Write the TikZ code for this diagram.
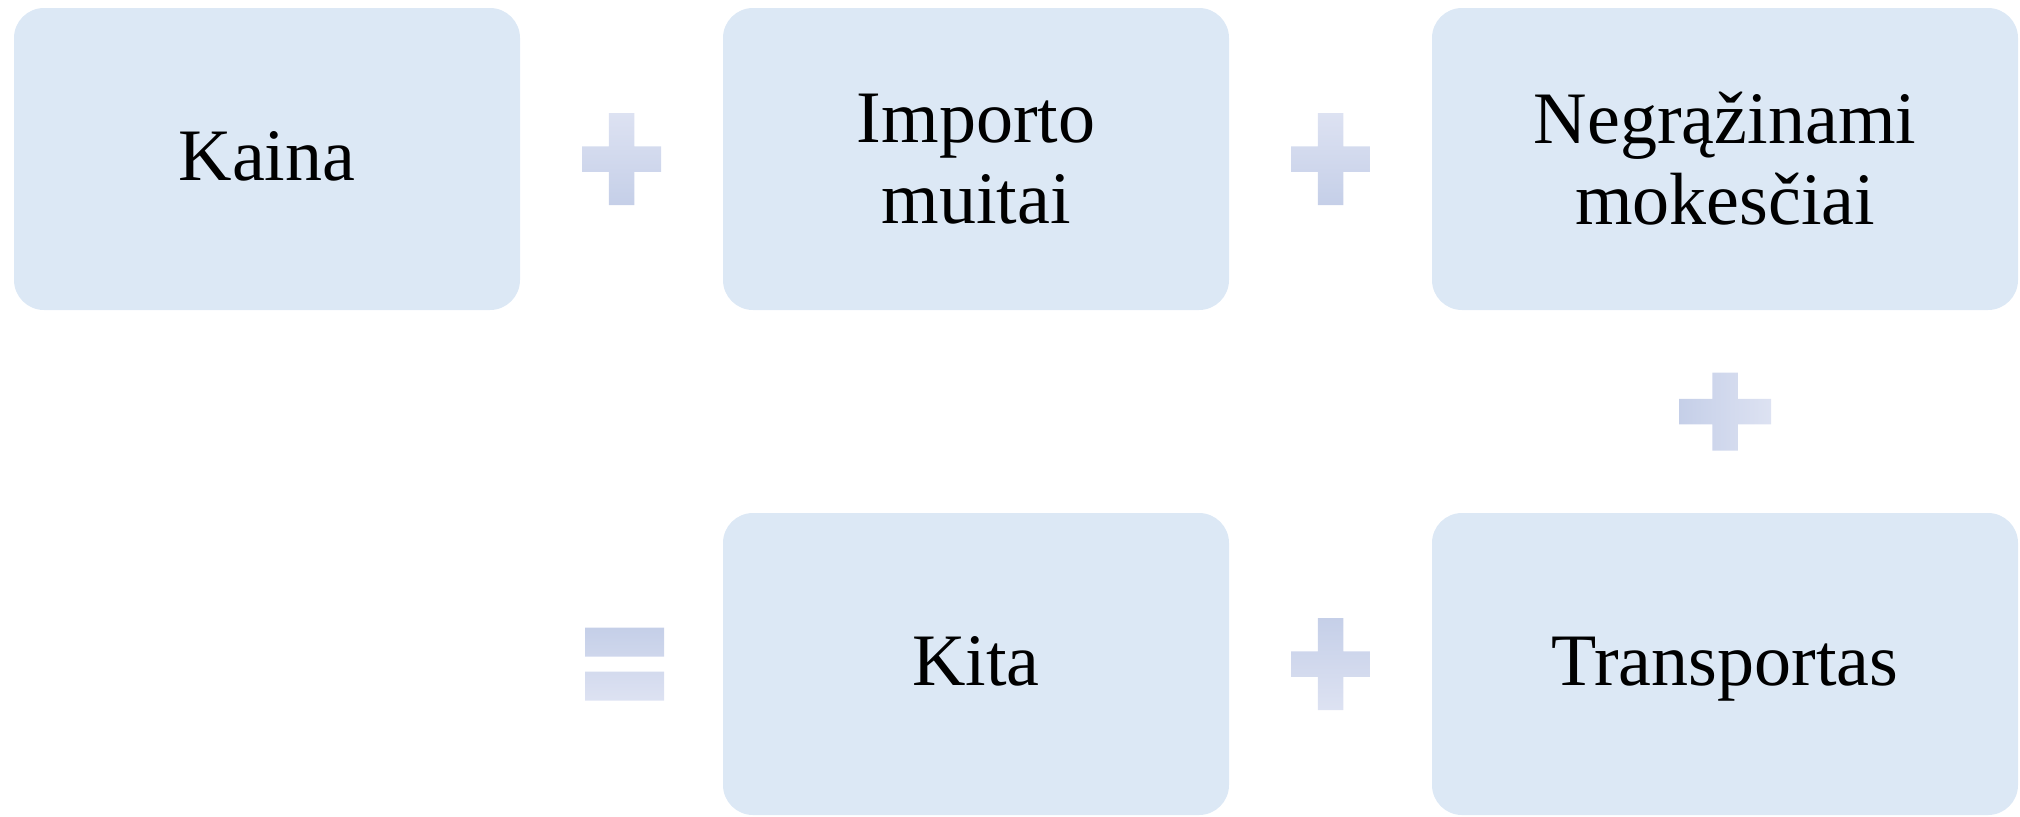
\documentclass[tikz,border=0pt]{standalone}
\usepackage{fontspec}
\setmainfont{Liberation Serif}
\usetikzlibrary{calc}
\definecolor{boxblue}{RGB}{220,232,245}
\definecolor{symdark}{RGB}{197,207,232}
\definecolor{symlight}{RGB}{221,226,242}
\tikzset{
  termbox/.style={rectangle, rounded corners=15pt, fill=boxblue, draw=none,
    minimum height=151pt, inner sep=0pt, align=center,
    font=\fontsize{37}{40.5}\selectfont, text=black},
  oneline/.style={text height=26pt, text depth=5pt},
  plusv/.pic={\path[pic actions] (-12.75,-46) -- (12.75,-46) -- (12.75,-12.75) -- (39.5,-12.75)
      -- (39.5,12.75) -- (12.75,12.75) -- (12.75,46) -- (-12.75,46) -- (-12.75,12.75)
      -- (-39.5,12.75) -- (-39.5,-12.75) -- (-12.75,-12.75) -- cycle;},
  plush/.pic={\path[pic actions] (-46,-12.75) -- (-12.75,-12.75) -- (-12.75,-39) -- (12.75,-39)
      -- (12.75,-12.75) -- (46,-12.75) -- (46,12.75) -- (12.75,12.75) -- (12.75,39)
      -- (-12.75,39) -- (-12.75,12.75) -- (-46,12.75) -- cycle;},
  eqsign/.pic={\path[pic actions] (-39.5,-36.5) rectangle (39.5,-7.5) (-39.5,7.5) rectangle (39.5,36.5);},
  lighttop/.style={top color=symlight, bottom color=symdark},
  darktop/.style={top color=symdark, bottom color=symlight},
  darkleft/.style={left color=symdark, right color=symlight}
}
\begin{document}
\begin{tikzpicture}[x=0.5pt, y=-0.5pt]
\useasboundingbox (0,0) rectangle (2020,816);
\node[termbox, oneline, minimum width=253pt] (kaina) at (267,159) {Kaina};
\node[termbox, minimum width=253pt] (importo) at (976,159) {Importo\\muitai};
\node[termbox, minimum width=293pt] (negraz) at (1725,159) {Negrąžinami\\mokesčiai};
\node[termbox, oneline, minimum width=293pt] (transp) at (1725,664) {Transportas};
\node[termbox, oneline, minimum width=253pt] (kita) at (976,664) {Kita};
\coordinate (p1) at ($(kaina.east)!0.5!(importo.west)$);
\coordinate (p2) at ($(importo.east)!0.5!(negraz.west)$);
\coordinate (p3) at ($(negraz.south)!0.5!(transp.north)$);
\coordinate (p4) at ($(kita.east)!0.5!(transp.west)$);
\coordinate (eq) at ($(kita.west)+(-98,0)$);
\pic[lighttop] at (p1) {plusv};
\pic[lighttop] at (p2) {plusv};
\pic[darkleft] at (p3) {plush};
\pic[darktop] at (p4) {plusv};
\pic[darktop] at (eq) {eqsign};
\end{tikzpicture}
\end{document}
